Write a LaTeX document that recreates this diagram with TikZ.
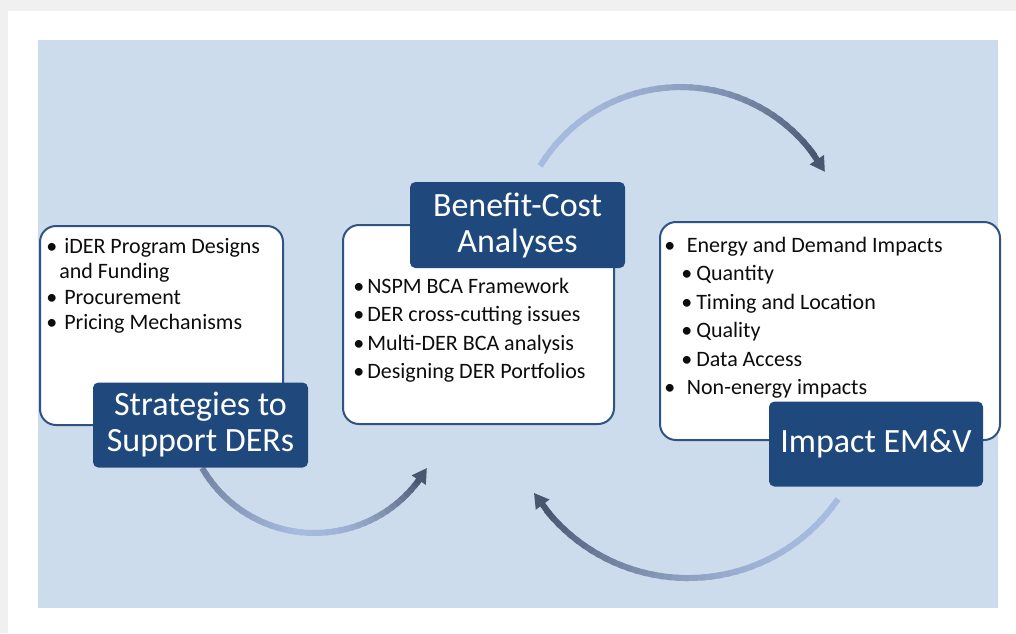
\documentclass[tikz,border=0pt]{standalone}
\usepackage{fontspec}
\setmainfont{Carlito}
\usetikzlibrary{arrows.meta}

\definecolor{pagegray}{HTML}{F0F0F0}
\definecolor{panelblue}{HTML}{CDDCEC}
\definecolor{cardline}{HTML}{2F5484}
\definecolor{titleblue}{HTML}{1F497D}
\definecolor{arrlight}{HTML}{A7BBE0}
\definecolor{arrdark}{HTML}{48566E}

\newdimen\px \px=0.75pt
\newcommand{\blt}[1]{\makebox[#1][l]{\textbullet}}

\tikzset{
  card/.style={draw=cardline, line width=1.5pt, fill=white, rounded corners=12pt},
  titlebox/.style={fill=titleblue, rounded corners=4pt, text=white, align=center,
    font=\fontsize{25.5}{27}\selectfont, minimum width=215\px, minimum height=85\px, inner sep=0pt},
  body/.style={anchor=base west, inner sep=0pt, text=black!95, font=\fontsize{16.5}{19}\selectfont},
  arrline/.style={line width=4.5pt}
}

\begin{document}
\begin{tikzpicture}[x=0.75pt, y=-0.75pt]
% page and panel (pixel coordinates, y down)
\useasboundingbox (0,0) rectangle (1016,633);
\fill[pagegray] (0,0) rectangle (1016,633);
\fill[white] (8,11) rectangle (1016,633);
\fill[panelblue] (38,40) rectangle (998,608);

% centres of the three cycle arrows
\coordinate (ctop) at (680.8,251.8);
\coordinate (cbot) at (688,396.2);
\coordinate (cleft) at (314.5,403.3);

% top arrow, light to dark
\foreach \i in {0,...,39}{
  \pgfmathsetmacro\aa{-148.6+(148.6-37)*\i/40}
  \pgfmathsetmacro\ab{-148.6+(148.6-37)*(\i+1.5)/40}
  \pgfmathsetmacro\pc{100*(\i/40)*(\i/40)}
  \draw[arrline, arrdark!\pc!arrlight] ([shift={(\aa:164.8)}]ctop) -- ([shift={(\ab:164.8)}]ctop);
}
\draw[arrline, arrdark, -{Triangle[length=11pt, width=12pt]}] ([shift={(-38:164.8)}]ctop) -- ([shift={(-29:164.8)}]ctop);

% bottom arrow
\foreach \i in {0,...,39}{
  \pgfmathsetmacro\aa{34.4+(140-34.4)*\i/40}
  \pgfmathsetmacro\ab{34.4+(140-34.4)*(\i+1.5)/40}
  \pgfmathsetmacro\pc{100*(\i/40)*(\i/40)}
  \draw[arrline, arrdark!\pc!arrlight] ([shift={(\aa:181.9)}]cbot) -- ([shift={(\ab:181.9)}]cbot);
}
\draw[arrline, arrdark, -{Triangle[length=11pt, width=12pt]}] ([shift={(139:181.9)}]cbot) -- ([shift={(147.9:181.9)}]cbot);

% left arrow
\foreach \i in {0,...,39}{
  \pgfmathsetmacro\aa{150.1-(150.1-37)*\i/40}
  \pgfmathsetmacro\ab{150.1-(150.1-37)*(\i+1.5)/40}
  \pgfmathsetmacro\pc{ifthenelse(\i<18, 55*(1-\i/18), 100*((\i-18)/22)*((\i-18)/22))}
  \draw[arrline, arrdark!\pc!arrlight] ([shift={(\aa:129.7)}]cleft) -- ([shift={(\ab:129.7)}]cleft);
}
\draw[arrline, arrdark, -{Triangle[length=11pt, width=12pt]}] ([shift={(38:129.7)}]cleft) -- ([shift={(29.9:129.7)}]cleft);

% the three cards
\node[card, minimum width=243\px, minimum height=199\px] (strat) at (161.5,325.5) {};
\node[card, minimum width=271\px, minimum height=199\px] (bca) at (478.5,324.5) {};
\node[card, minimum width=340\px, minimum height=218\px] (emv) at (830,331) {};

% card texts
\node[body] (s1) at (46,253) {\blt{13.5pt}iDER Program Designs};
\node[body] (s2) at (59,278.5) {and Funding};
\node[body] (s3) at (46,304) {\blt{13.5pt}Procurement};
\node[body] (s4) at (46,329.5) {\blt{13.5pt}Pricing Mechanisms};

\node[body] (b1) at (353,293) {\blt{10.5pt}NSPM BCA Framework};
\node[body] (b2) at (353,321.5) {\blt{10.5pt}DER cross-cutting issues};
\node[body] (b3) at (353,350) {\blt{10.5pt}Multi-DER BCA analysis};
\node[body] (b4) at (353,378.5) {\blt{10.5pt}Designing DER Portfolios};

\node[body] (e1) at (664,252) {\blt{17pt}Energy and Demand Impacts};
\node[body] (e2) at (681,280.5) {\blt{11.25pt}Quantity};
\node[body] (e3) at (681,309) {\blt{11.25pt}Timing and Location};
\node[body] (e4) at (681,337.5) {\blt{11.25pt}Quality};
\node[body] (e5) at (681,366) {\blt{11.25pt}Data Access};
\node[body] (e6) at (664,394.5) {\blt{17pt}Non-energy impacts};

% titles
\node[titlebox] (stratT) at (200.5,425) {Strategies to\\Support DERs};
\node[titlebox, minimum height=86\px] (bcaT) at (517.5,225) {Benefit-Cost\\Analyses};
\node[titlebox, minimum width=214\px] (emvT) at (876,444) {Impact EM\&V};
\end{tikzpicture}
\end{document}
